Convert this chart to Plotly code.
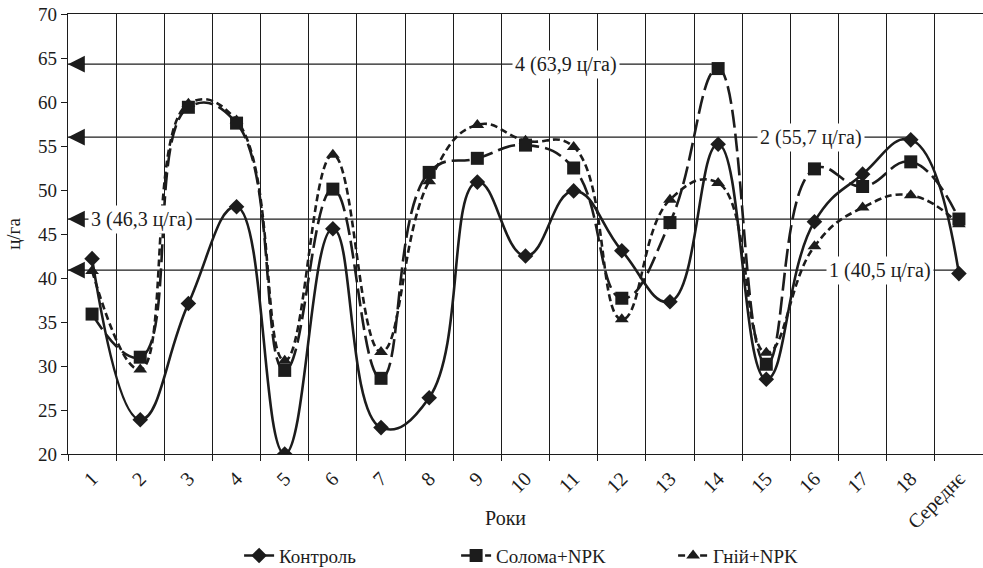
import plotly.graph_objects as go

categories = [str(i) for i in range(1, 19)] + ["Середнє"]

control = [42.2, 23.9, 37.1, 48.1, 20.0, 45.6, 23.0, 26.4, 50.9, 42.5, 49.9,
           43.1, 37.3, 55.2, 28.5, 46.4, 51.8, 55.7, 40.5]
soloma = [35.9, 31.0, 59.4, 57.6, 29.5, 50.1, 28.6, 52.0, 53.6, 55.1, 52.5,
          37.7, 46.3, 63.8, 30.2, 52.4, 50.4, 53.2, 46.7]
gnij = [40.8, 29.6, 59.8, 57.9, 30.6, 54.0, 31.6, 51.0, 57.4, 55.6, 54.9,
        35.3, 48.9, 50.8, 31.5, 43.6, 48.0, 49.4, 46.1]

ref_labels = ["1 (40,5 ц/га)", "2 (55,7 ц/га)", "3 (46,3 ц/га)", "4 (63,9 ц/га)"]
ref_levels = [40.9, 56.0, 46.7, 64.3]
ref_end_cat = ["Середнє", "18", "Середнє", "14"]
ref_label_cat = ["18", "16", "2", "11"]
ref_label_shift = [-31, -3, 2, -8]

INK = "#1c1c1c"
FONT = "Liberation Serif"

fig = go.Figure()

series = [
    ("Контроль", control, "solid", "diamond", 12),
    ("Солома+NPK", soloma, "18px,6px", "square", 13),
    ("Гній+NPK", gnij, "7px,4px", "triangle-up", 12),
]
for name, vals, dash, sym, size in series:
    fig.add_trace(go.Scatter(
        x=categories, y=vals, name=name, mode="lines+markers",
        line=dict(color=INK, width=2.6, dash=dash, shape="spline", smoothing=1.3),
        marker=dict(symbol=sym, size=size, color=INK),
    ))

shapes = []
annotations = []
for lab, lev, endc, labc, sh in zip(ref_labels, ref_levels, ref_end_cat, ref_label_cat, ref_label_shift):
    shapes.append(dict(type="line", xref="x", yref="y", x0=-0.5, x1=categories.index(endc),
                       y0=lev, y1=lev, line=dict(color=INK, width=1.2), layer="below"))
    annotations.append(dict(xref="paper", yref="y", x=0, y=lev, ax=18, ay=0, axref="pixel", ayref="pixel",
                            text="", showarrow=True, arrowhead=2, arrowsize=2.8, arrowwidth=1.2,
                            arrowcolor=INK))
    annotations.append(dict(xref="x", yref="y", x=categories.index(labc), y=lev, xshift=sh, text=lab,
                            showarrow=False, bgcolor="white", borderpad=2,
                            font=dict(family=FONT, size=20, color=INK)))

annotations.append(dict(xref="paper", yref="paper", x=0.4776, y=-0.1455, text="Роки", showarrow=False,
                        xanchor="center", yanchor="middle",
                        font=dict(family=FONT, size=20, color=INK)))

fig.update_layout(
    width=983, height=568,
    margin=dict(l=68, r=0, t=14, b=114, autoexpand=False),
    paper_bgcolor="white", plot_bgcolor="white",
    font=dict(family=FONT, size=19, color=INK),
    shapes=shapes, annotations=annotations,
    legend=dict(orientation="h", x=0.187, xanchor="left", y=-0.188, yanchor="top",
                font=dict(family=FONT, size=19, color=INK), entrywidth=172,
                bgcolor="rgba(0,0,0,0)"),
    xaxis=dict(type="category", range=[-0.5, 18.5], tickson="boundaries",
               showgrid=True, gridcolor=INK, gridwidth=1,
               showline=True, linecolor=INK, linewidth=1.2, mirror=True,
               ticks="outside", ticklen=6, tickcolor=INK, tickangle=-45,
               ticklabelstandoff=4,
               tickfont=dict(family=FONT, size=20, color=INK),
               zeroline=False),
    yaxis=dict(range=[20, 70], dtick=5, showgrid=False,
               showline=True, linecolor=INK, linewidth=1.2,
               ticks="outside", ticklen=6, tickcolor=INK,
               tickfont=dict(family=FONT, size=19, color=INK),
               title=dict(text="ц/га", font=dict(family=FONT, size=19, color=INK), standoff=12),
               zeroline=False),
)

fig.write_html("out.html", config={"displayModeBar": False},
               post_script="document.body.style.margin='0';")
